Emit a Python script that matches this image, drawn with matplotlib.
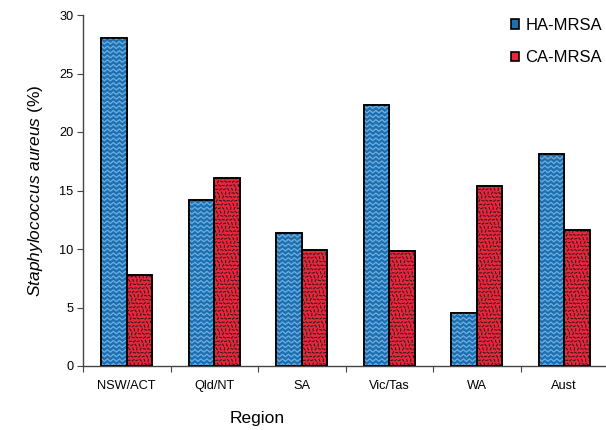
import numpy as np
import matplotlib
matplotlib.use("Agg")
import matplotlib.pyplot as plt
from matplotlib.collections import LineCollection
from matplotlib.patches import Rectangle

# ─── Data ─────────────────────────────────────────────────────────────────────
regions = ["NSW/ACT", "Qld/NT", "SA", "Vic/Tas", "WA", "Aust"]
ha_mrsa = [28.0, 14.2, 11.4, 22.3, 4.5, 18.1]
ca_mrsa = [7.8, 16.1, 9.9, 9.8, 15.4, 11.6]
series_names = ["HA-MRSA", "CA-MRSA"]
y_ticks = [0, 5, 10, 15, 20, 25, 30]

BLUE = "#1d6fb0"
BLUE_ZIG = "#6fb0e2"
RED = "#e8263c"

plt.rcParams["font.family"] = "Liberation Sans"
plt.rcParams["mathtext.fontset"] = "custom"
plt.rcParams["mathtext.it"] = "Liberation Sans:italic"
plt.rcParams["mathtext.rm"] = "Liberation Sans"

fig = plt.figure(figsize=(6.06, 4.30), dpi=100)
ax = fig.add_axes([83 / 606, 1 - 366 / 430, 525 / 606, 351 / 430])

x = np.arange(len(regions))
w = 0.29
bars_ha = ax.bar(x - w / 2, ha_mrsa, w, color=BLUE, edgecolor="black", linewidth=1.2, zorder=2)
bars_ca = ax.bar(x + w / 2, ca_mrsa, w, color=RED, edgecolor="black", linewidth=1.2, zorder=2)

ax.set_xlim(-0.5, len(regions) - 0.5)
ax.set_ylim(0, 30)


def px_to_data(dx_px, dy_px):
    inv = ax.transData.inverted()
    p0 = inv.transform((0, 0))
    p1 = inv.transform((dx_px, dy_px))
    return p1[0] - p0[0], p1[1] - p0[1]


fig.canvas.draw()

# texture: zigzag rows on the blue bars
zx, zy = px_to_data(3.0, 4.6)
amp = px_to_data(0, 2.6)[1]
for b in bars_ha:
    x0, h, bw = b.get_x(), b.get_height(), b.get_width()
    xs = np.arange(x0 - zx, x0 + bw + 2 * zx, zx)
    segs = []
    yy = 0.0
    while yy < h + zy:
        ys = yy + amp * (np.arange(len(xs)) % 2)
        segs.append(np.column_stack([xs, ys]))
        yy += zy
    lc = LineCollection(segs, colors=BLUE_ZIG, linewidths=0.9, zorder=2.5)
    ax.add_collection(lc)
    lc.set_clip_path(b)

# texture: short dark dashes on the red bars
dx, dy = px_to_data(3.8, 3.8)
lx, ly = px_to_data(1.6, 1.6)
angles = [0.3, 1.9, 1.1, 2.6, 0.7, 2.2, 1.5, 2.9, 0.1]
for b in bars_ca:
    x0, h, bw = b.get_x(), b.get_height(), b.get_width()
    segs = []
    i = 0
    for row, yc in enumerate(np.arange(dy / 2, h, dy)):
        off = ((row * 5) % 3) * dx / 3
        for col, xc in enumerate(np.arange(x0 + off, x0 + bw, dx)):
            a = angles[(i * 4 + row * 7 + col) % len(angles)]
            i += 1
            c, s = np.cos(a), np.sin(a)
            segs.append([(xc - lx * c, yc - ly * s), (xc + lx * c, yc + ly * s)])
    lc = LineCollection(segs, colors="#2a1a1a", linewidths=0.75, zorder=2.5)
    ax.add_collection(lc)
    lc.set_clip_path(b)

# redraw the outlines on top
for b in list(bars_ha) + list(bars_ca):
    ax.add_patch(Rectangle((b.get_x(), 0), b.get_width(), b.get_height(),
                           fill=False, edgecolor="black", linewidth=1.2, zorder=3))

# axes styling
for side in ["top", "right"]:
    ax.spines[side].set_visible(False)
for side in ["left", "bottom"]:
    ax.spines[side].set_color("#444444")
    ax.spines[side].set_linewidth(1.0)

ax.set_yticks(y_ticks)
ax.tick_params(axis="y", direction="out", length=4, labelsize=9.2, color="#444444", pad=3)
ax.set_xticks(np.arange(len(regions) + 1) - 0.5)
ax.set_xticklabels([])
ax.set_xticks(x, minor=True)
ax.set_xticklabels(regions, minor=True)
ax.tick_params(axis="x", which="major", direction="out", length=4, color="#444444")
ax.tick_params(axis="x", which="minor", length=0, labelsize=9.2, pad=10)

ax.set_ylabel(r"$\it{Staphylococcus\ aureus}$ (%)", fontsize=12.5, labelpad=10)
ax.set_xlabel("Region", fontsize=12.5)
ax.xaxis.set_label_coords((257 - 83) / 525, -(411 - 366) / 351)

handles = [Rectangle((0, 0), 1, 1, facecolor=BLUE, edgecolor="black", linewidth=1.2),
           Rectangle((0, 0), 1, 1, facecolor=RED, edgecolor="black", linewidth=1.2)]
ax.legend(handles, series_names, loc="upper left", bbox_to_anchor=(511 / 606, 1 - 18 / 430),
          bbox_transform=fig.transFigure, frameon=False, fontsize=12, borderpad=0,
          borderaxespad=0, handlelength=0.5, handleheight=0.5, handletextpad=0.35,
          labelspacing=1.05)

fig.savefig("out.png", dpi=100)
